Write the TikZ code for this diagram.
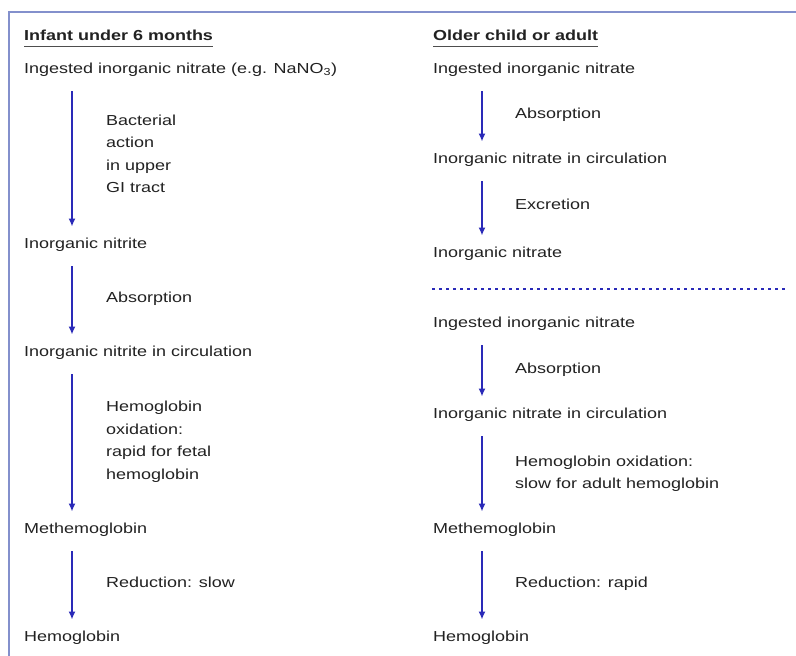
\documentclass[tikz,border=0pt]{standalone}
\usepackage{fontspec}
\setmainfont[FakeStretch=1.24]{Liberation Sans}
\usetikzlibrary{arrows.meta,calc}
\definecolor{framec}{HTML}{8390CC}
\definecolor{arrowc}{HTML}{2A2AB8}
\definecolor{textc}{HTML}{222222}
\tikzset{
  txt/.style={anchor=west,inner sep=0pt,text height=10.5pt,text depth=3pt,text=textc,yshift=-2pt,
     font=\fontsize{14.5}{22.5}\selectfont},
  lbl/.style={txt,align=left,text height=,text depth=},
  head/.style={txt,font=\fontsize{14.5}{22.5}\selectfont\bfseries},
  arr/.style={draw=arrowc,line width=2pt,-{Latex[length=8pt,width=7pt]},
     shorten <=14.5pt,shorten >=11.5pt},
  frame/.style={draw=framec,line width=2.5pt},
  uline/.style={draw=textc!80,line width=1.3pt}
}
\begin{document}
\begin{tikzpicture}[x=1pt,y=-1pt]
\useasboundingbox[fill=white] (0,0) rectangle (796,656);
\draw[frame] (9,656) -- (9,12) -- (796,12);
% axes for arrows
\coordinate (LA) at (72,0);
\coordinate (RA) at (482,0);
% left column
\node[head] (h1) at (24,35) {Infant under 6 months};
\draw[uline] ([yshift=-6pt]h1.base west) -- ([yshift=-6pt]h1.base east);
\node[txt] (l1) at (24,68) {Ingested inorganic nitrate (e.g. NaNO\textsubscript{3})};
\node[txt] (l2) at (24,243) {Inorganic nitrite};
\node[txt] (l3) at (24,351) {Inorganic nitrite in circulation};
\node[txt] (l4) at (24,528) {Methemoglobin};
\node[txt] (l5) at (24,636) {Hemoglobin};
\node[lbl] (a1) at (106,152) {Bacterial\\action\\in upper\\GI tract};
\node[txt] (a2) at (106,297) {Absorption};
\node[lbl] (a3) at (106,439.5) {Hemoglobin\\oxidation:\\rapid for fetal\\hemoglobin};
\node[txt] (a4) at (106,582) {Reduction: slow};
\draw[arr] (l1.south -| LA) -- (l2.north -| LA);
\draw[arr] (l2.south -| LA) -- (l3.north -| LA);
\draw[arr] (l3.south -| LA) -- (l4.north -| LA);
\draw[arr] (l4.south -| LA) -- (l5.north -| LA);
% right column
\node[head] (h2) at (433,35) {Older child or adult};
\draw[uline] ([yshift=-6pt]h2.base west) -- ([yshift=-6pt]h2.base east);
\node[txt] (r1) at (433,68) {Ingested inorganic nitrate};
\node[txt] (r2) at (433,158) {Inorganic nitrate in circulation};
\node[txt] (r3) at (433,252) {Inorganic nitrate};
\node[txt] (r4) at (433,322) {Ingested inorganic nitrate};
\node[txt] (r5) at (433,413) {Inorganic nitrate in circulation};
\node[txt] (r6) at (433,528) {Methemoglobin};
\node[txt] (r7) at (433,636) {Hemoglobin};
\node[txt] (b1) at (515,113) {Absorption};
\node[txt] (b2) at (515,204) {Excretion};
\node[txt] (b3) at (515,368) {Absorption};
\node[lbl] (b4) at (515,471.5) {Hemoglobin oxidation:\\slow for adult hemoglobin};
\node[txt] (b5) at (515,582) {Reduction: rapid};
\draw[arr] (r1.south -| RA) -- (r2.north -| RA);
\draw[arr] (r2.south -| RA) -- (r3.north -| RA);
\draw[arr] (r4.south -| RA) -- (r5.north -| RA);
\draw[arr] (r5.south -| RA) -- (r6.north -| RA);
\draw[arr] (r6.south -| RA) -- (r7.north -| RA);
% dotted separator
\coordinate (d1) at (432,289);
\coordinate (d2) at (787,289);
\draw[draw=arrowc,line width=2pt,dash pattern=on 3pt off 4pt] (d1) -- (d2);
\end{tikzpicture}
\end{document}
